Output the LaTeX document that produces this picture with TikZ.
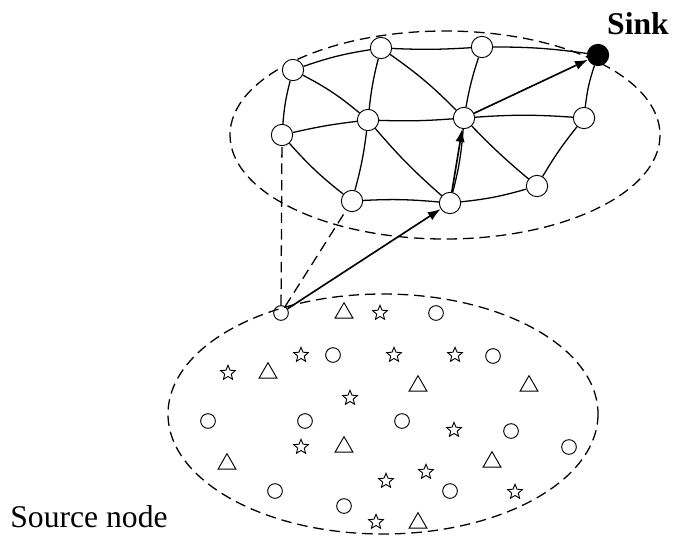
\documentclass[tikz,border=0pt]{standalone}
\usepackage{fontspec}
\setmainfont{Liberation Serif}
\usetikzlibrary{shapes.geometric,arrows.meta}

\tikzset{
    sensor/.style={circle, draw, thick, fill=white, minimum size=0.64cm, inner sep=0pt},
    dot/.style={circle, draw, thick, minimum size=0.44cm, inner sep=0pt},
    tri/.style={regular polygon, regular polygon sides=3, draw, thick, minimum size=0.62cm, inner sep=0pt},
    starnode/.style={star, star points=5, star point ratio=2.2, draw, thick, minimum size=0.46cm, inner sep=0pt},
    link/.style={line width=1.1pt},
    cluster/.style={line width=1.1pt, dash pattern=on 9pt off 5pt},
    route/.style={-{Latex[length=11pt,width=8pt]}, line width=1.4pt},
}

\begin{document}
\begin{tikzpicture}[x=0.03cm, y=-0.03cm]
    \useasboundingbox (0,0) rectangle (685,557);
    % the two clusters
    \draw[cluster] (445,135) ellipse [x radius=215, y radius=104];
    \draw[cluster] (383,414) ellipse [x radius=215, y radius=120];

    % nodes of the upper network
    \foreach \n/\x/\y in {a/293/70, b/381/48, c/482/47, d/282/135, e/368/120,
                          f/464/118, g/584/118, h/352/201, i/450/203, j/537/186} {
        \node[sensor] (\n) at (\x,\y) {};
    }
    \node[sensor, fill=black] (sink) at (598,55) {};
    \node[dot] (src) at (281,313) {};

    \foreach \u/\v/\b in {a/b/5, b/c/-3, c/sink/4, a/d/-5, a/e/6, b/e/-4, b/f/5,
                          c/f/-4, d/e/3, e/f/-3, f/g/4, g/sink/6, d/h/-5,
                          e/h/4, e/i/-4, f/i/5, f/j/-3, h/i/4, i/j/-5, j/g/4} {
        \draw[link] (\u) to[bend left=\b] (\v);
    }
    \draw[cluster] (src) -- (d);
    \draw[cluster] (src) -- (h);
    \draw[route] (src) -- (i);
    \draw[route] (i) -- (f);
    \draw[route] (f) -- (sink);

    % deployed field
    \foreach \x/\y in {436/313, 333/355, 493/356, 208/421, 305/421, 402/421,
                       511/431, 569/447, 275/491, 344/506, 450/491} {
        \node[dot] at (\x,\y) {};
    }
    \foreach \x/\y in {344/313, 268/373, 418/386, 529/386, 344/447, 227/464,
                       492/462, 418/523} {
        \node[tri] at (\x,\y) {};
    }
    \foreach \x/\y in {380/313, 301/355, 394/355, 455/355, 228/373, 350/398,
                       454/430, 301/447, 426/472, 386/481, 515/492, 376/522} {
        \node[starnode] at (\x,\y) {};
    }

    \node[font=\fontsize{27}{30}\selectfont\bfseries] (sinklbl) at (638,24) {Sink};
    \node[font=\fontsize{27}{30}\selectfont] (srclbl) at (89,517) {Source node};
\end{tikzpicture}
\end{document}
